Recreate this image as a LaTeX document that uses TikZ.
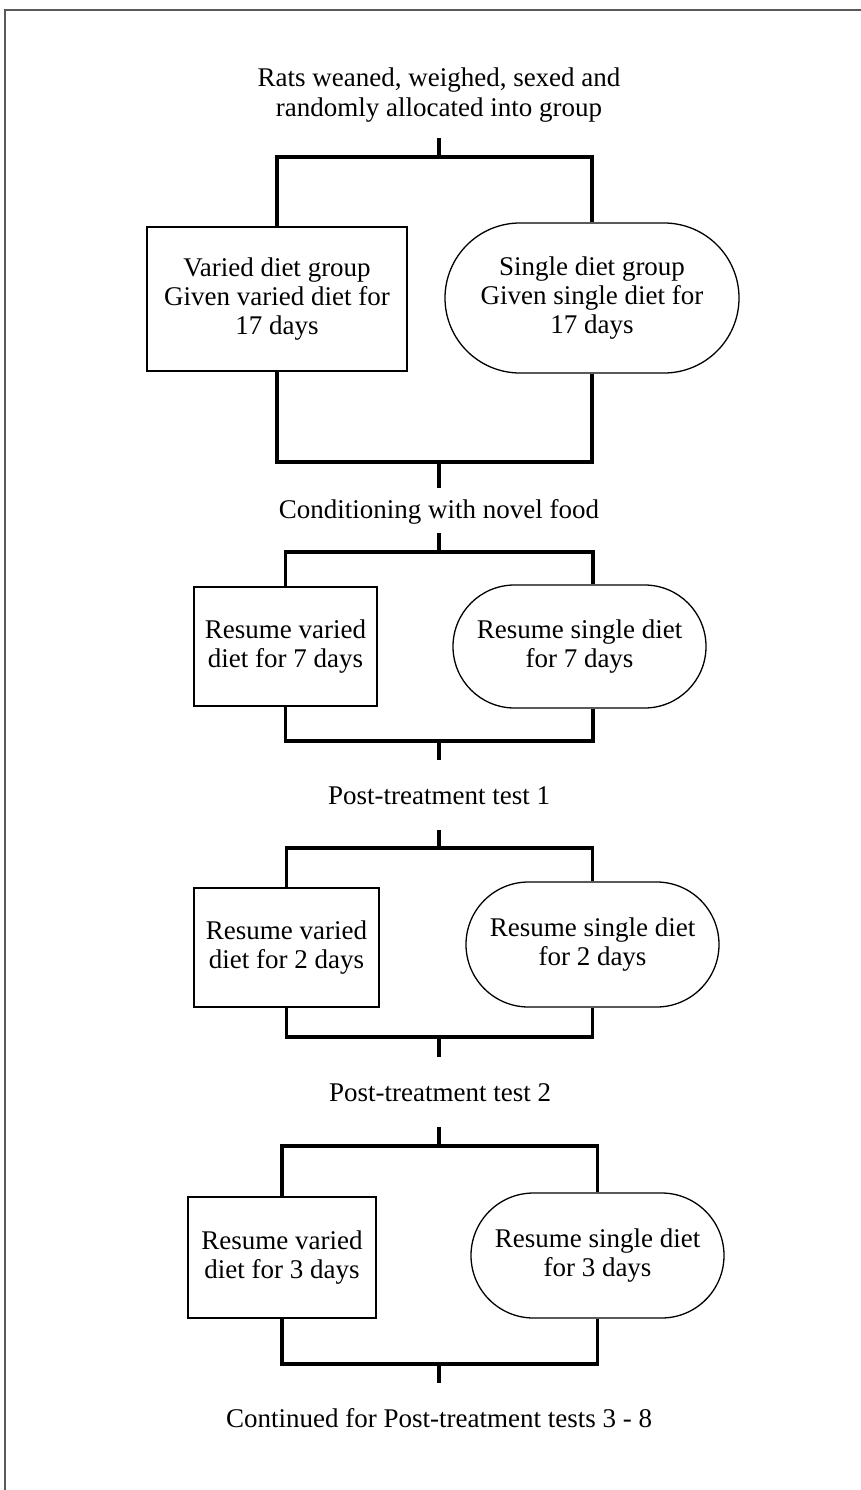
\documentclass[tikz,border=0pt]{standalone}
\usepackage{fontspec}
\setmainfont{Liberation Serif}
\usetikzlibrary{shapes.misc}
\begin{document}
\begin{tikzpicture}[x=1pt,y=-1pt,
  txt/.style={font=\fontsize{27}{29}\selectfont, align=center, inner sep=0pt},
  vbox/.style={txt, draw, line width=1.3pt, rectangle},
  obox/.style={txt, draw, line width=1.3pt, rounded rectangle},
  conn/.style={line width=3.3pt},
  frame/.style={draw=black!65, line width=1.5pt}]
\useasboundingbox (0,0) rectangle (861,1490);
\draw[frame] (5,1500) -- (5,10) -- (870,10);

% ---------- section 1
\node[txt, font=\fontsize{27}{30}\selectfont] (t1) at (439,95) {Rats weaned, weighed, sexed and\\randomly allocated into group};
\coordinate (a1) at (439,138);
\coordinate (j1) at (439,157);
\node[vbox, minimum width=260pt, minimum height=144pt] (v1) at (277,299) {Varied diet group\\Given varied diet for\\17 days};
\node[obox, minimum width=294pt, minimum height=150pt] (s1) at (592,298) {Single diet group\\Given single diet for\\17 days};
\coordinate (k1) at (439,462);
\coordinate (e1) at (439,488);
\draw[conn] (a1) -- (j1);
\draw[conn] (v1.north) |- (j1) -| (s1.north);
\draw[conn] (v1.south) |- (k1) -| (s1.south);
\draw[conn] (k1) -- (e1);

% ---------- section 2
\node[txt] (t2) at (439,512) {Conditioning with novel food};
\coordinate (a2) at (439,533);
\coordinate (j2) at (439,552);
\node[vbox, minimum width=183pt, minimum height=119pt] (v2) at (285.5,646.5) {Resume varied\\diet for 7 days};
\node[obox, minimum width=253pt, minimum height=123pt] (s2) at (579.5,646.5) {Resume single diet\\for 7 days};
\coordinate (x2) at (593,0);
\coordinate (k2) at (439,741);
\coordinate (e2) at (439,760);
\draw[conn] (a2) -- (j2);
\draw[conn] (v2.north) |- (j2) -| (s2.north -| x2);
\draw[conn] (v2.south) |- (k2) -| (s2.south -| x2);
\draw[conn] (k2) -- (e2);

% ---------- section 3
\node[txt] (t3) at (439,796) {Post-treatment test 1};
\coordinate (a3) at (439,830);
\coordinate (j3) at (439,848);
\node[vbox, minimum width=185pt, minimum height=119pt] (v3) at (286.5,947.5) {Resume varied\\diet for 2 days};
\node[obox, minimum width=253pt, minimum height=125pt] (s3) at (592.5,944.5) {Resume single diet\\for 2 days};
\coordinate (k3) at (439,1037);
\coordinate (e3) at (439,1057);
\draw[conn] (a3) -- (j3);
\draw[conn] (v3.north) |- (j3) -| (s3.north);
\draw[conn] (v3.south) |- (k3) -| (s3.south);
\draw[conn] (k3) -- (e3);

% ---------- section 4
\node[txt] (t4) at (440,1093) {Post-treatment test 2};
\coordinate (a4) at (439,1127);
\coordinate (j4) at (439,1146);
\node[vbox, minimum width=188pt, minimum height=121pt] (v4) at (282,1257.5) {Resume varied\\diet for 3 days};
\node[obox, minimum width=253pt, minimum height=125pt] (s4) at (597.5,1255.5) {Resume single diet\\for 3 days};
\coordinate (k4) at (439,1364);
\coordinate (e4) at (439,1383);
\draw[conn] (a4) -- (j4);
\draw[conn] (v4.north) |- (j4) -| (s4.north);
\draw[conn] (v4.south) |- (k4) -| (s4.south);
\draw[conn] (k4) -- (e4);

\node[txt] (t5) at (439,1418) {Continued for Post-treatment tests 3 - 8};
\end{tikzpicture}
\end{document}
